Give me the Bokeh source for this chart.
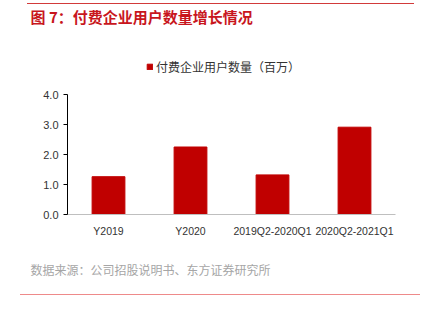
from bokeh.plotting import figure
from bokeh.models import Legend, LegendItem, FactorRange, Range1d, Title, InlineStyleSheet
from bokeh.embed import file_html
from bokeh.resources import INLINE

categories = ["Y2019", "Y2020", "2019Q2-2020Q1", "2020Q2-2021Q1"]
paid_users = [1.26, 2.25, 1.32, 2.91]
series_name = "付费企业用户数量（百万）"
title_text = "图 7：付费企业用户数量增长情况"
source_text = "数据来源：公司招股说明书、东方证券研究所"
y_ticks = [0, 1, 2, 3, 4]
y_tick_labels = ["0.0", "1.0", "2.0", "3.0", "4.0"]

rules_css = """
:host { position: relative; }
:host::before { content: ""; position: absolute; left: 27px; top: 3px; width: 387px; height: 0;
  border-top: 1px solid #d23a3a; z-index: 10; pointer-events: none; }
:host::after { content: ""; position: absolute; left: 20px; top: 294px; width: 400px; height: 0;
  border-top: 1px solid #ee8a8a; z-index: 10; pointer-events: none; }
"""

# frame extends above the 4.0 tick to leave room for the legend; axis line bounded to 0-4
p = figure(
    x_range=FactorRange(*categories, range_padding=0),
    y_range=Range1d(0, 6),
    width=430, height=317,
    output_backend="svg", toolbar_location=None,
    min_border_left=67, min_border_right=35, min_border_top=33, min_border_bottom=103,
    stylesheets=[InlineStyleSheet(css=rules_css)],
)
p.title = Title(text=title_text, align="left", offset=-37, standoff=11, vertical_align="top",
                text_font="Noto Sans CJK SC", text_font_size="15px", text_font_style="bold",
                text_color="#c8161d")
p.outline_line_color = None
p.xgrid.grid_line_color = None
p.ygrid.grid_line_color = None

r = p.vbar(x=categories, top=paid_users, width=0.4, color="#c00000")

p.yaxis.ticker = y_ticks
p.yaxis.bounds = (0, 4)
p.yaxis.major_label_overrides = dict(zip(y_ticks, y_tick_labels))
p.yaxis.axis_line_color = "#000000"
p.yaxis.major_tick_line_color = "#000000"
p.yaxis.major_tick_out = 4
p.yaxis.major_tick_in = 0
p.yaxis.minor_tick_line_color = None
p.yaxis.major_label_text_font = "Liberation Sans"
p.yaxis.major_label_text_font_size = "11px"
p.yaxis.major_label_text_color = "#333333"

p.xaxis.axis_line_color = "#bfbfbf"
p.xaxis.major_tick_line_color = None
p.xaxis.minor_tick_line_color = None
p.xaxis.major_label_text_font = "Liberation Sans"
p.xaxis.major_label_text_font_size = "10.5px"
p.xaxis.major_label_text_color = "#333333"
p.xaxis.major_label_standoff = 4

legend = Legend(
    items=[LegendItem(label=series_name, renderers=[r])],
    orientation="horizontal", location=(79, 139),
    label_text_font="Noto Sans CJK SC", label_text_font_size="12px",
    label_text_color="#333333",
    glyph_width=7, glyph_height=7, label_standoff=3,
    border_line_color=None, background_fill_alpha=0,
    padding=0, margin=0, spacing=0,
)
p.add_layout(legend, "center")

p.add_layout(Title(text=source_text, align="left", offset=-37, standoff=41, vertical_align="middle",
                   text_font="Noto Sans CJK SC", text_font_size="12px", text_font_style="normal",
                   text_color="#a6a6a6"), "below")

open("out.html", "w").write(file_html(p, INLINE))
